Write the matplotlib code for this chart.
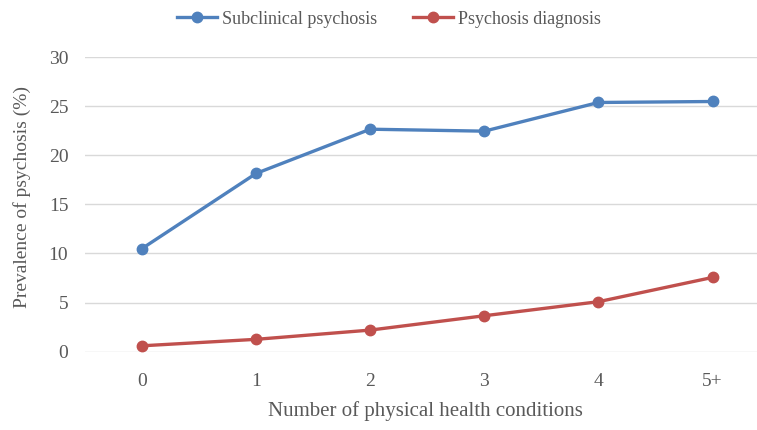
import matplotlib
matplotlib.use("Agg")
import matplotlib.pyplot as plt

# Data
categories = ["0", "1", "2", "3", "4", "5+"]
subclinical = [10.5, 18.15, 22.65, 22.45, 25.37, 25.47]
diagnosis = [0.6, 1.26, 2.2, 3.66, 5.09, 7.56]

yticks = [0, 5, 10, 15, 20, 25, 30]

blue = "#4F81BD"
red = "#C0504D"
text_color = "#595959"

plt.rcParams['font.family'] = ['Liberation Serif', 'DejaVu Serif']

fig = plt.figure(figsize=(7.57, 4.30), dpi=100)
ax = fig.add_axes([85 / 757, 78.3 / 430, 672 / 757, 294.7 / 430])

x = list(range(len(categories)))
ax.plot(x, subclinical, color=blue, lw=2.4, marker='o', markersize=7.5,
        label="Subclinical psychosis", clip_on=False, zorder=3)
ax.plot(x, diagnosis, color=red, lw=2.4, marker='o', markersize=7.5,
        label="Psychosis diagnosis", clip_on=False, zorder=3)

ax.set_xlim(-0.5, 5.39)
ax.set_ylim(0, 30)
ax.set_yticks(yticks)
ax.set_yticklabels([str(v) for v in yticks])
ax.set_xticks(x)
ax.set_xticklabels(categories)

ax.grid(axis='y', color='#D9D9D9', lw=1)
ax.set_axisbelow(True)
for s in ax.spines.values():
    s.set_visible(False)
ax.tick_params(length=0, labelsize=14, colors=text_color)
ax.tick_params(axis='y', pad=12)
ax.tick_params(axis='x', pad=15)

fig.text(22 / 757, 1 - 197 / 430, "Prevalence of psychosis (%)", rotation=90,
         ha='center', va='center', fontsize=14, color=text_color)
fig.text(425 / 757, 1 - 411 / 430, "Number of physical health conditions",
         ha='center', va='center', fontsize=15, color=text_color)

fig.legend(loc='center', bbox_to_anchor=(389 / 757, 1 - 19 / 430), ncol=2,
           frameon=False, fontsize=13, handlelength=2.2, handletextpad=0.3,
           columnspacing=2.0, labelcolor=text_color)

fig.savefig("out.png", dpi=100)
